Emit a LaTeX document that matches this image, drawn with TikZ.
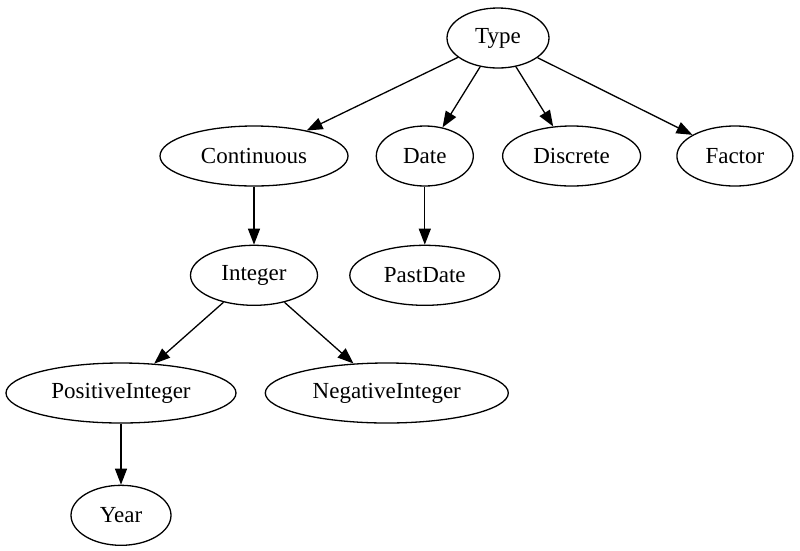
\documentclass[tikz,border=0pt]{standalone}
\usepackage{fontspec}
\setmainfont{Liberation Serif}
\usepackage{tikz}
\usetikzlibrary{positioning,shapes.geometric,arrows.meta}
\tikzstyle{typenode} = [ellipse, draw=black, line width=1.3pt, minimum height=60pt, inner sep=0pt, text centered, font=\fontsize{23}{27}\selectfont]
\tikzstyle{arrow} = [line width=1.3pt, -{Triangle[length=16pt, width=12pt]}]

\begin{document}
\begin{tikzpicture}[x=1pt, y=1pt]
		\useasboundingbox (0,0) rectangle (800,-550);

		% Nodes
		\node (type) [typenode, minimum width=102pt] at (498,-38) {Type};

		\node (continuous) [typenode, minimum width=188pt] at (254,-156) {Continuous};
		\node (date) [typenode, minimum width=97pt, right=27pt of continuous] {Date};
		\node (discrete) [typenode, minimum width=138pt, right=28pt of date] {Discrete};
		\node (factor) [typenode, minimum width=116pt, right=35pt of discrete] {Factor};

		\node (integer) [typenode, minimum width=127pt, below=58pt of continuous] {Integer};
		\node (pastdate) [typenode, minimum width=150pt, below=58pt of date] {PastDate};

		\node (posint) [typenode, minimum width=230pt] at (121,-393) {PositiveInteger};
		\node (negint) [typenode, minimum width=243pt, right=28pt of posint] {NegativeInteger};

		\node (year) [typenode, minimum width=100pt, below=61pt of posint] {Year};

		% Arrows
		\draw [arrow] (type) -- (continuous);
		\draw [arrow] (type) -- (date);
		\draw [arrow] (type) -- (discrete);
		\draw [arrow] (type) -- (factor);

		\draw [arrow] (continuous) -- (integer);
		\draw [arrow] (date) -- (pastdate);

		\draw [arrow] (integer) -- (posint);
		\draw [arrow] (integer) -- (negint);

		\draw [arrow] (posint) -- (year);
	\end{tikzpicture}
\end{document}
